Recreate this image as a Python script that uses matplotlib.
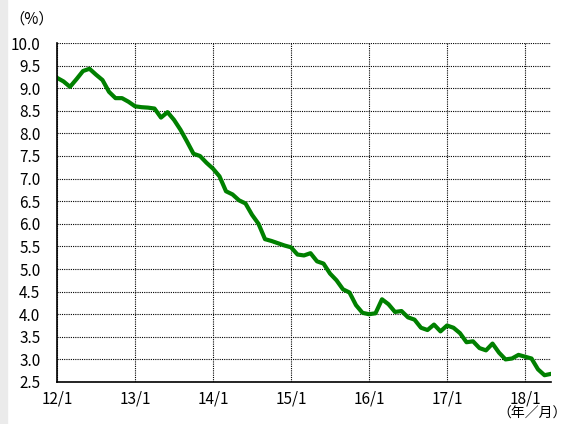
"""Monthly rate chart, 2012/1 - 2018/5."""
import matplotlib
matplotlib.use("Agg")
import matplotlib.pyplot as plt
from matplotlib.patches import Rectangle

plt.rcParams['font.family'] = ['Noto Sans CJK JP', 'DejaVu Sans']

# monthly values from 12/1 onward (%)
rate = [
    9.23, 9.15, 9.03, 9.20, 9.38, 9.43, 9.30, 9.18, 8.92, 8.78, 8.78, 8.70,
    8.60, 8.58, 8.57, 8.55, 8.35, 8.47, 8.30, 8.08, 7.82, 7.55, 7.50, 7.35,
    7.22, 7.05, 6.72, 6.65, 6.52, 6.45, 6.20, 6.00, 5.66, 5.62, 5.57, 5.52,
    5.48, 5.32, 5.30, 5.35, 5.17, 5.12, 4.90, 4.75, 4.55, 4.48, 4.20, 4.03,
    4.00, 4.02, 4.33, 4.22, 4.05, 4.07, 3.93, 3.88, 3.70, 3.65, 3.77, 3.62,
    3.75, 3.70, 3.58, 3.38, 3.40, 3.25, 3.20, 3.35, 3.15, 3.00, 3.02, 3.10,
    3.06, 3.02, 2.78, 2.65, 2.68,
]
tick_labels = ["12/1", "13/1", "14/1", "15/1", "16/1", "17/1", "18/1"]
tick_months = [0, 12, 24, 36, 48, 60, 72]
y_ticks = [2.5 + 0.5 * i for i in range(16)]

fig = plt.figure(figsize=(5.75, 4.24), dpi=100)
fig.patches.append(Rectangle((0, 0), 7 / 575, 1, transform=fig.transFigure,
                             color="#ebebeb", zorder=0))
ax = fig.add_axes([57 / 575, 42 / 424, 494 / 575, 339 / 424])

ax.plot(range(len(rate)), rate, color="#008000", lw=3.0,
        solid_joinstyle="round", zorder=3)

ax.set_xlim(0, 76)
ax.set_ylim(2.5, 10.0)
ax.set_xticks(tick_months)
ax.set_xticklabels(tick_labels)
ax.set_yticks(y_ticks)
ax.set_yticklabels([f"{v:.1f}" for v in y_ticks])
ax.tick_params(length=0, labelsize=11, colors="black")
ax.tick_params(axis="y", pad=12)
ax.tick_params(axis="x", pad=6)

ax.grid(True, color="black", linestyle=(0, (1, 1)), lw=0.8)
ax.spines["top"].set_visible(False)
ax.spines["right"].set_visible(False)
for s in ("left", "bottom"):
    ax.spines[s].set_linewidth(1.2)
    ax.spines[s].set_zorder(4)

fig.text(32 / 575, 1 - 19 / 424, "（%）", ha="center", va="center", fontsize=11)
fig.text(532 / 575, 1 - 414 / 424, "（年／月）", ha="center", va="center", fontsize=10)

fig.savefig("out.png", dpi=100)
